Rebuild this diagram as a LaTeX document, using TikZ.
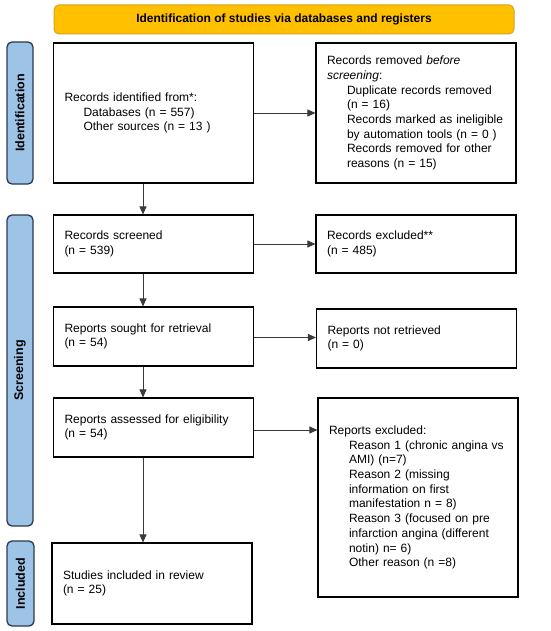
\documentclass[tikz,border=0pt]{standalone}
\usepackage{fontspec}
\setmainfont{Liberation Sans}
\usetikzlibrary{arrows.meta,calc}
\definecolor{hdrfill}{HTML}{FFC000}
\definecolor{hdrdraw}{HTML}{D9A21B}
\definecolor{sidefill}{HTML}{9DC3E6}
\definecolor{sidedraw}{HTML}{2B3A4F}
\definecolor{arrcol}{HTML}{3A3A3A}
\begin{document}
\begin{tikzpicture}[x=1pt,y=-1pt,
  hdr/.style={draw=hdrdraw,fill=hdrfill,line width=1pt,rounded corners=5pt,minimum width=460pt,minimum height=29pt,inner sep=0pt,font=\bfseries\fontsize{12}{14}\selectfont},
  side/.style={draw=sidedraw,fill=sidefill,line width=1.3pt,rounded corners=5pt,rotate=90,inner sep=0pt,font=\bfseries\fontsize{12.5}{14}\selectfont},
  box/.style={draw=black,line width=1.1pt,minimum width=200pt,text width=178pt,inner xsep=11pt,inner ysep=0pt,align=left,font=\fontsize{12}{14.7}\selectfont},
  arr/.style={draw=arrcol,line width=0.9pt,-{Triangle[length=8pt,width=7pt]}}]
\useasboundingbox (0,0) rectangle (550,631);
\fill[white] (0,0) rectangle (550,631);
% header
\node[hdr] (hdr) at (284,19.5) {Identification of studies via databases and registers};
% side labels
\node[side,minimum width=142pt,minimum height=26pt] (sid1) at (20,113) {Identification};
\node[side,minimum width=311pt,minimum height=26pt] (sid2) at (20,370.5) {Screening};
\node[side,minimum width=85pt,minimum height=27pt] (sid3) at (20.5,583.5) {Included};
% boxes
\node[box,minimum height=140pt] (ident) at (153.5,113) {Records identified from*:\\\hspace*{19pt}Databases (n = 557)\\\hspace*{19pt}Other sources (n = 13 )};
\node[box,minimum height=140pt] (remov) at (416,113) {Records removed \textit{before}\\\textit{screening}:\\\hspace*{20pt}Duplicate records removed\\\hspace*{20pt}(n = 16)\\\hspace*{20pt}Records marked as ineligible\\\hspace*{20pt}by automation tools (n = 0 )\\\hspace*{20pt}Records removed for other\\\hspace*{20pt}reasons (n = 15)};
\node[box,minimum height=58pt] (scr) at (153.5,244) {Records screened\\(n = 539)};
\node[box,minimum height=58pt] (excl) at (416,244) {Records excluded**\\(n = 485)};
\node[box,minimum height=59pt] (sought) at (153.5,336.5) {Reports sought for retrieval\\(n = 54)};
\node[box,minimum height=59pt] (notret) at (416.5,338.5) {Reports not retrieved\\(n = 0)};
\node[box,minimum height=59pt] (assess) at (153.5,427.5) {Reports assessed for eligibility\\(n = 54)};
\node[box,minimum height=199pt] (rexcl) at (418,497.5) {Reports excluded:\\\hspace*{20pt}Reason 1 (chronic angina vs\\\hspace*{20pt}AMI) (n=7)\\\hspace*{20pt}Reason 2 (missing\\\hspace*{20pt}information on first\\\hspace*{20pt}manifestation n = 8)\\\hspace*{20pt}Reason 3 (focused on pre\\\hspace*{20pt}infarction angina (different\\\hspace*{20pt}notin) n= 6)\\\hspace*{20pt}Other reason (n =8)};
\node[box,minimum height=81pt] (incl) at (152,583.5) {Studies included in review\\(n = 25)\\[6pt]};
% connectors
\coordinate (ax) at (143,0);
\draw[arr] (ident.south -| ax) -- (scr.north -| ax);
\draw[arr] (scr.south -| ax) -- (sought.north -| ax);
\draw[arr] (sought.south -| ax) -- (assess.north -| ax);
\draw[arr] (assess.south -| ax) -- (incl.north -| ax);
\draw[arr] (ident.east) -- (remov.west);
\draw[arr] (scr.east) -- (excl.west);
\coordinate (s1) at ($(sought.east)+(0,1)$);
\coordinate (s2) at ($(assess.east)+(0,2.5)$);
\draw[arr] (s1) -- (s1 -| notret.west);
\draw[arr] (s2) -- (s2 -| rexcl.west);
\end{tikzpicture}
\end{document}
